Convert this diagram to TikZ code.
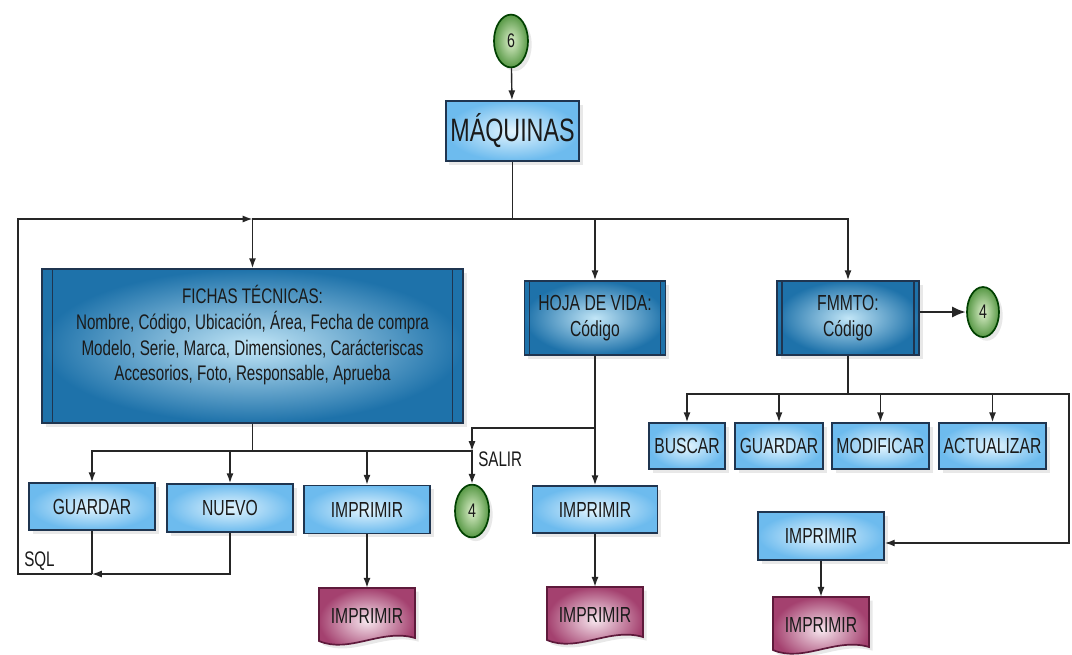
\documentclass[tikz,border=0pt]{standalone}
\usepackage{fontspec}
\setmainfont{Liberation Sans}[FakeStretch=0.72]
\usepackage{tikz}
\usetikzlibrary{shapes.geometric}
\usetikzlibrary{arrows.meta}
\usetikzlibrary{shadows}

\definecolor{boxline}{HTML}{1F3550}
\definecolor{lightin}{HTML}{E4F5FE}
\definecolor{lightout}{HTML}{6DBBEE}
\definecolor{darkin}{HTML}{C2E6F7}
\definecolor{darkout}{HTML}{1E72AA}
\definecolor{greenin}{HTML}{DDF0CB}
\definecolor{greenout}{HTML}{579845}
\definecolor{docin}{HTML}{F7E6EE}
\definecolor{docout}{HTML}{A4416F}
\definecolor{docline}{HTML}{5E1A3B}
\definecolor{txt}{HTML}{1A1A1A}

\tikzset{
  >={Latex[length=7pt,width=5pt]},
  link/.style={line width=1pt, draw=black!85},
  box/.style={draw=boxline, line width=1.2pt, inner color=lightin, outer color=lightout,
    minimum width=3.15cm, minimum height=1.2cm, text=txt, align=center,
    font=\fontsize{15.5}{19}\selectfont, drop shadow={opacity=0.18}},
  procbox/.style={box, inner color=darkin, outer color=darkout,
    path picture={
      \draw[boxline, line width=1pt] ([xshift=#1]path picture bounding box.north west) -- ([xshift=#1]path picture bounding box.south west);
      \draw[boxline, line width=1pt] ([xshift=-#1]path picture bounding box.north east) -- ([xshift=-#1]path picture bounding box.south east);}},
  procbox/.default=3.5pt,
  conn/.style={ellipse, draw=green!25!black, line width=1.2pt, inner color=greenin, outer color=greenout,
    minimum width=0.85cm, minimum height=1.32cm, inner sep=0pt, text=txt,
    font=\fontsize{14}{16}\selectfont, drop shadow={opacity=0.18}},
  doctxt/.style={minimum width=2.4cm, minimum height=1.375cm, inner sep=0pt, text=txt,
    font=\fontsize{15.5}{19}\selectfont},
  lbl/.style={text=txt, font=\fontsize{15}{18}\selectfont, inner sep=0pt}
}

% document shape: x centre, y top
\newcommand{\docshape}[2]{%
  \shade[inner color=docin, outer color=docout, draw=docline, line width=1.2pt, drop shadow={opacity=0.18}]
    (#1-48,#2) -- (#1+48,#2) -- (#1+48,#2+50)
    .. controls (#1+15,#2+40) and (#1-18,#2+66) .. (#1-48,#2+53) -- cycle;}

\begin{document}
\begin{tikzpicture}[x=0.025cm,y=-0.025cm]
  \fill[white] (0,0) rectangle (1072,654);
  \useasboundingbox (0,0) rectangle (1072,654);

  \node[conn] (c6) at (511,41) {6};
  \node[box, minimum width=3.325cm, minimum height=1.5cm, font=\fontsize{23}{26}\selectfont] (maq) at (512.5,131) {MÁQUINAS};

  \node[procbox=7.5pt, minimum width=10.525cm, minimum height=3.85cm, font=\fontsize{15}{18.3}\selectfont] (fichas) at (252.5,346)
    {FICHAS TÉCNICAS:\\Nombre, Código, Ubicación, Área, Fecha de compra\\Modelo, Serie, Marca, Dimensiones, Carácteriscas\\Accesorios, Foto, Responsable, Aprueba\\\mbox{}};
  \node[procbox, minimum width=3.525cm, minimum height=1.85cm] (hoja) at (595,318) {HOJA DE VIDA:\\Código};
  \node[procbox, minimum width=3.55cm, minimum height=1.85cm] (fmmto) at (848,318) {FMMTO:\\Código};
  \node[conn, minimum width=0.8cm, minimum height=1.25cm] (c4a) at (983,312) {4};

  \node[box, minimum height=1.175cm] (guardar1) at (92,506.5) {GUARDAR};
  \node[box] (nuevo) at (230,508) {NUEVO};
  \node[box] (imp1) at (367,509.5) {IMPRIMIR};
  \node[conn] (c4b) at (472,511) {4};
  \node[box, minimum width=3.125cm, minimum height=1.175cm] (imp2) at (595,509.5) {IMPRIMIR};

  \node[box, minimum width=1.9cm, minimum height=1.15cm] (buscar) at (687,446) {BUSCAR};
  \node[box, minimum width=2.2cm, minimum height=1.15cm] (guardar2) at (779,446) {GUARDAR};
  \node[box, minimum width=2.425cm, minimum height=1.15cm] (modificar) at (880.5,446) {MODIFICAR};
  \node[box, minimum width=2.675cm, minimum height=1.15cm] (actualizar) at (992.5,446) {ACTUALIZAR};
  \node[box] (imp3) at (821,536) {IMPRIMIR};

  \docshape{367}{588}
  \node[doctxt] (doc1) at (367,615.5) {IMPRIMIR};
  \docshape{595}{587}
  \node[doctxt] (doc2) at (595,614.5) {IMPRIMIR};
  \docshape{821}{597}
  \node[doctxt] (doc3) at (821,624.5) {IMPRIMIR};

  \node[lbl, anchor=west] (salirlbl) at (478,459) {SALIR};
  \node[lbl, anchor=west] (sqllbl) at (24,561) {SQL};

  \coordinate (bus) at (512.5,219);
  \coordinate (sql) at (92,574);
  \coordinate (loop) at (18,574);
  \coordinate (fbus) at (252.5,451);
  \coordinate (salir) at (472,451);
  \coordinate (hojaj) at (595,428);
  \coordinate (mbus) at (848,394);
  \coordinate (mr) at (1069,394);
  \coordinate (mr2) at (1069,543);

  \draw[link,->] (c6) -- (maq);
  \draw[link] (maq) -- (bus);
  \draw[link,->] (bus) -| (fichas.north);
  \draw[link,->] (bus) -| (hoja.north);
  \draw[link,->] (bus) -| (fmmto.north);

  \draw[link] (fichas.south) -- (fbus);
  \draw[link,->] (fbus) -| (guardar1.north);
  \draw[link,->] (fbus) -| (nuevo.north);
  \draw[link,->] (fbus) -| (imp1.north);
  \draw[link,->] (fbus) -| (c4b.north);
  \draw[link,->] (hojaj) -| (salir);
  \draw[link,->] (hoja.south) -- (imp2.north);
  \draw[link,->] (imp1) -- (doc1);
  \draw[link,->] (imp2) -- (doc2);

  \draw[link] (guardar1.south) -- (sql);
  \draw[link,->] (nuevo.south) |- (sql);
  \draw[link,->] (sql) -- (loop) |- (fichas.north |- bus);

  \draw[link,-{Latex[length=10pt,width=8pt]},line width=2pt] (fmmto.east |- c4a) -- (c4a);
  \draw[link] (fmmto.south) -- (mbus);
  \draw[link,->] (mbus) -| (buscar.north);
  \draw[link,->] (mbus) -| (guardar2.north);
  \draw[link,->] (mbus) -| (modificar.north);
  \draw[link,->] (mbus) -| (actualizar.north);
  \draw[link,->] (mbus) -- (mr) -- (mr2) -- (imp3.east |- mr2);
  \draw[link,->] (imp3) -- (doc3);
\end{tikzpicture}
\end{document}
